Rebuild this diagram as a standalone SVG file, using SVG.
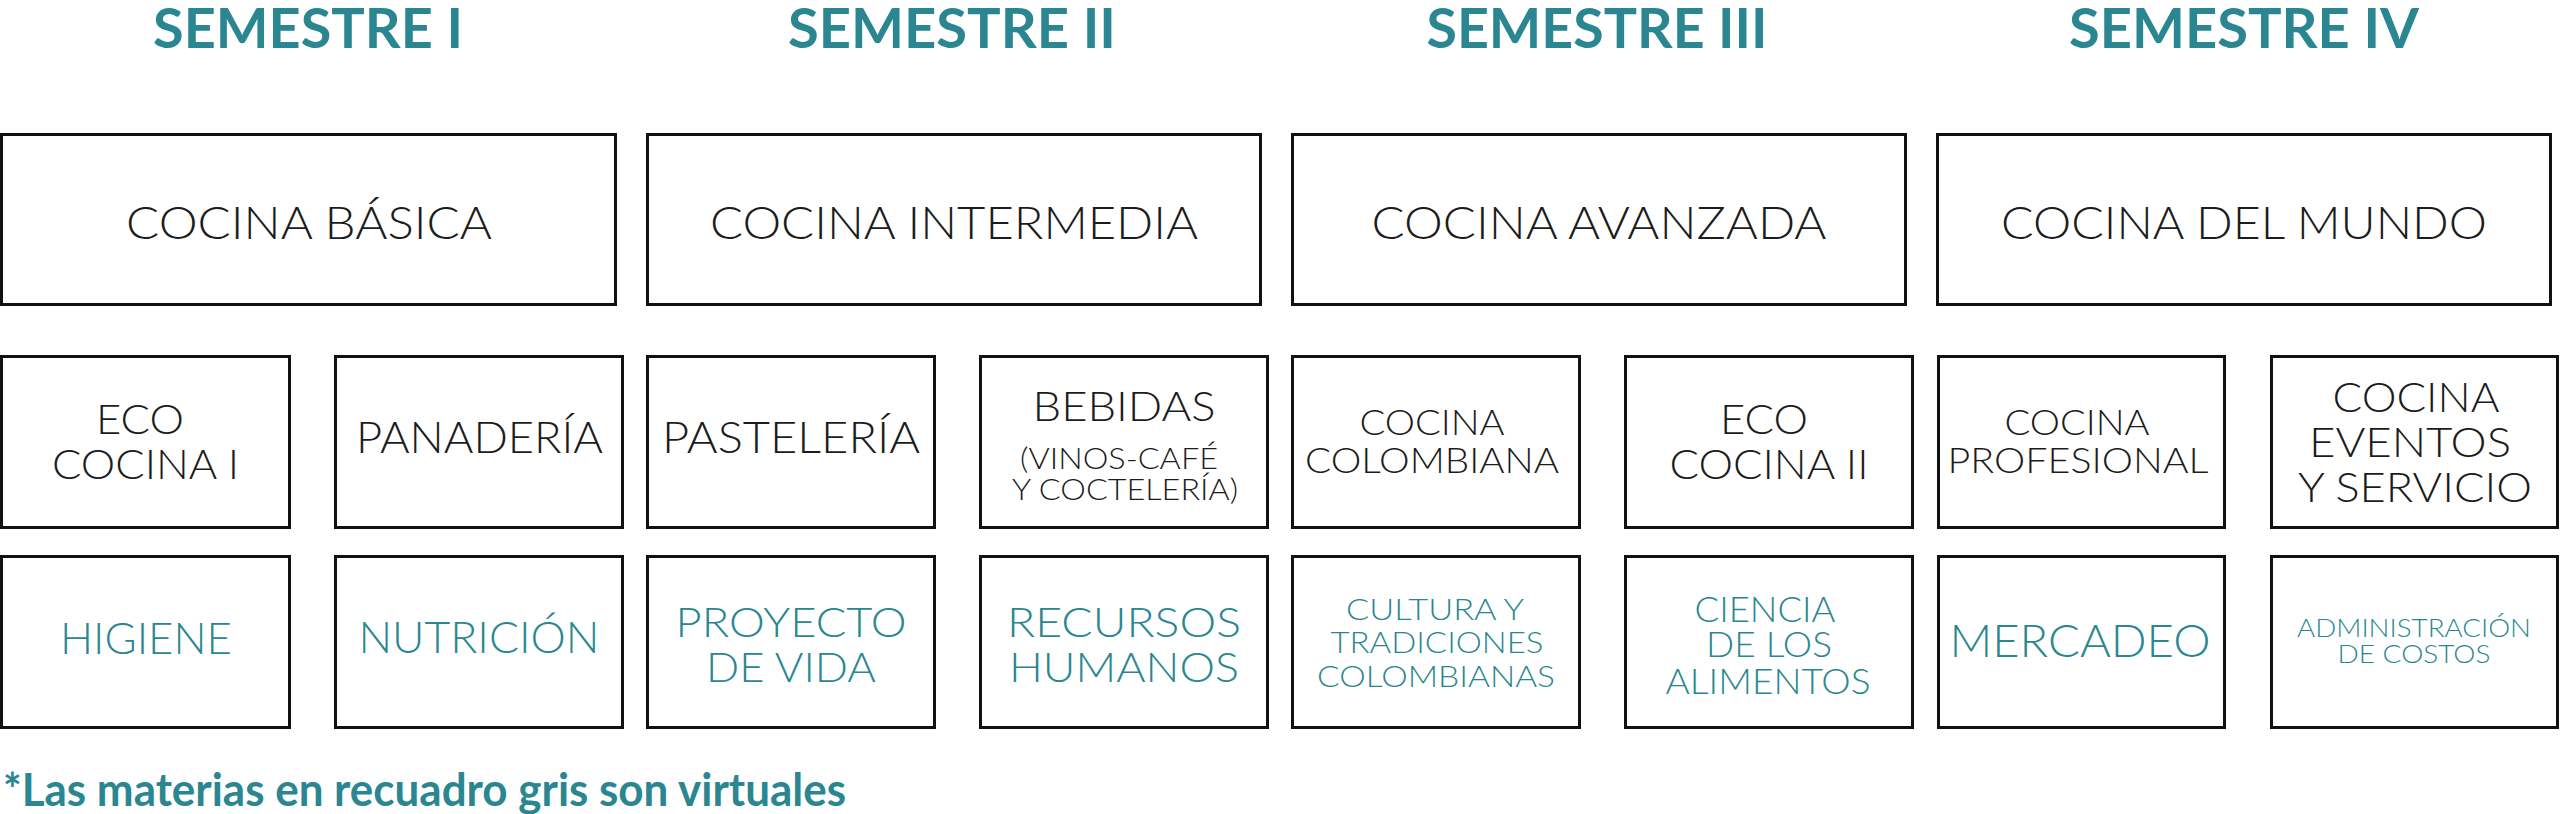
<svg xmlns="http://www.w3.org/2000/svg" width="2560" height="814" viewBox="0 0 2560 814">
<style>
  .box { fill: #ffffff; stroke: #111111; stroke-width: 3; }
  .t { font-family: Lato, "Liberation Sans", sans-serif; font-weight: 300; fill: #1c1c1c; text-anchor: middle; }
  .v { font-family: Lato, "Liberation Sans", sans-serif; font-weight: 300; fill: #2a8791; text-anchor: middle; }
  .h { font-family: Lato, "Liberation Sans", sans-serif; font-weight: 700; fill: #2a8691; text-anchor: middle; font-size: 56px; }
  .note { font-family: Lato, "Liberation Sans", sans-serif; font-weight: 700; fill: #2a8691; font-size: 46px; }
</style>
<rect x="0" y="0" width="2560" height="814" fill="#ffffff"/>

<g id="titles">
  <text class="h" x="308" y="48" textLength="310" lengthAdjust="spacingAndGlyphs">SEMESTRE I</text>
  <text class="h" x="952" y="48" textLength="328" lengthAdjust="spacingAndGlyphs">SEMESTRE II</text>
  <text class="h" x="1597" y="48" textLength="341" lengthAdjust="spacingAndGlyphs">SEMESTRE III</text>
  <text class="h" x="2244" y="48" textLength="350" lengthAdjust="spacingAndGlyphs">SEMESTRE IV</text>
</g>

<g id="connectors"></g>

<!-- Row 1 -->
<g id="cocina-basica">
  <rect class="box" x="1.5" y="134.5" width="614" height="170"/>
  <text class="t" x="309" y="239" font-size="46" textLength="366" lengthAdjust="spacingAndGlyphs">COCINA BÁSICA</text>
</g>
<g id="cocina-intermedia">
  <rect class="box" x="647.5" y="134.5" width="613" height="170"/>
  <text class="t" x="954" y="239" font-size="46" textLength="488" lengthAdjust="spacingAndGlyphs">COCINA INTERMEDIA</text>
</g>
<g id="cocina-avanzada">
  <rect class="box" x="1292.5" y="134.5" width="613" height="170"/>
  <text class="t" x="1599" y="239" font-size="46" textLength="455" lengthAdjust="spacingAndGlyphs">COCINA AVANZADA</text>
</g>
<g id="cocina-del-mundo">
  <rect class="box" x="1937.5" y="134.5" width="613" height="170"/>
  <text class="t" x="2244" y="239" font-size="46" textLength="486" lengthAdjust="spacingAndGlyphs">COCINA DEL MUNDO</text>
</g>

<!-- Row 2 -->
<g id="eco-cocina-1">
  <rect class="box" x="1.5" y="356.5" width="288" height="171"/>
  <text class="t" x="140" y="434" font-size="42" textLength="88" lengthAdjust="spacingAndGlyphs">ECO</text>
  <text class="t" x="145.5" y="479" font-size="42" textLength="187" lengthAdjust="spacingAndGlyphs">COCINA I</text>
</g>
<g id="panaderia">
  <rect class="box" x="335.5" y="356.5" width="287" height="171"/>
  <text class="t" x="479.5" y="453" font-size="43" textLength="247" lengthAdjust="spacingAndGlyphs">PANADERÍA</text>
</g>
<g id="pasteleria">
  <rect class="box" x="647.5" y="356.5" width="287" height="171"/>
  <text class="t" x="791" y="453" font-size="43" textLength="258" lengthAdjust="spacingAndGlyphs">PASTELERÍA</text>
</g>
<g id="bebidas">
  <rect class="box" x="980.5" y="356.5" width="287" height="171"/>
  <text class="t" x="1124" y="421" font-size="41" textLength="183" lengthAdjust="spacingAndGlyphs">BEBIDAS</text>
  <text class="t" x="1119" y="469" font-size="29" textLength="198" lengthAdjust="spacingAndGlyphs">(VINOS-CAFÉ</text>
  <text class="t" x="1125" y="500" font-size="29" textLength="226" lengthAdjust="spacingAndGlyphs">Y COCTELERÍA)</text>
</g>
<g id="cocina-colombiana">
  <rect class="box" x="1292.5" y="356.5" width="287" height="171"/>
  <text class="t" x="1432" y="435" font-size="36" textLength="145" lengthAdjust="spacingAndGlyphs">COCINA</text>
  <text class="t" x="1432" y="473" font-size="36" textLength="254" lengthAdjust="spacingAndGlyphs">COLOMBIANA</text>
</g>
<g id="eco-cocina-2">
  <rect class="box" x="1625.5" y="356.5" width="287" height="171"/>
  <text class="t" x="1764" y="434" font-size="42" textLength="88" lengthAdjust="spacingAndGlyphs">ECO</text>
  <text class="t" x="1769" y="479" font-size="42" textLength="199" lengthAdjust="spacingAndGlyphs">COCINA II</text>
</g>
<g id="cocina-profesional">
  <rect class="box" x="1938.5" y="356.5" width="286" height="171"/>
  <text class="t" x="2077" y="435" font-size="36" textLength="145" lengthAdjust="spacingAndGlyphs">COCINA</text>
  <text class="t" x="2078" y="473" font-size="36" textLength="261" lengthAdjust="spacingAndGlyphs">PROFESIONAL</text>
</g>
<g id="cocina-eventos">
  <rect class="box" x="2271.5" y="356.5" width="286" height="171"/>
  <text class="t" x="2416" y="412" font-size="42" textLength="167" lengthAdjust="spacingAndGlyphs">COCINA</text>
  <text class="t" x="2410" y="457" font-size="42" textLength="202" lengthAdjust="spacingAndGlyphs">EVENTOS</text>
  <text class="t" x="2415" y="502" font-size="42" textLength="234" lengthAdjust="spacingAndGlyphs">Y SERVICIO</text>
</g>

<!-- Row 3 -->
<g id="higiene">
  <rect class="box" x="1.5" y="556.5" width="288" height="171"/>
  <text class="v" x="146" y="654" font-size="43" textLength="172" lengthAdjust="spacingAndGlyphs">HIGIENE</text>
</g>
<g id="nutricion">
  <rect class="box" x="335.5" y="556.5" width="287" height="171"/>
  <text class="v" x="479" y="653" font-size="43" textLength="241" lengthAdjust="spacingAndGlyphs">NUTRICIÓN</text>
</g>
<g id="proyecto-de-vida">
  <rect class="box" x="647.5" y="556.5" width="287" height="171"/>
  <text class="v" x="791" y="637" font-size="42" textLength="231" lengthAdjust="spacingAndGlyphs">PROYECTO</text>
  <text class="v" x="791" y="682" font-size="42" textLength="170" lengthAdjust="spacingAndGlyphs">DE VIDA</text>
</g>
<g id="recursos-humanos">
  <rect class="box" x="980.5" y="556.5" width="287" height="171"/>
  <text class="v" x="1124" y="637" font-size="42" textLength="234" lengthAdjust="spacingAndGlyphs">RECURSOS</text>
  <text class="v" x="1124" y="682" font-size="42" textLength="230" lengthAdjust="spacingAndGlyphs">HUMANOS</text>
</g>
<g id="cultura-tradiciones">
  <rect class="box" x="1292.5" y="556.5" width="287" height="171"/>
  <text class="v" x="1435" y="620" font-size="30" textLength="178" lengthAdjust="spacingAndGlyphs">CULTURA Y</text>
  <text class="v" x="1437" y="653" font-size="30" textLength="213" lengthAdjust="spacingAndGlyphs">TRADICIONES</text>
  <text class="v" x="1436" y="687" font-size="30" textLength="238" lengthAdjust="spacingAndGlyphs">COLOMBIANAS</text>
</g>
<g id="ciencia-alimentos">
  <rect class="box" x="1625.5" y="556.5" width="287" height="171"/>
  <text class="v" x="1765" y="622" font-size="35" textLength="141" lengthAdjust="spacingAndGlyphs">CIENCIA</text>
  <text class="v" x="1769" y="657" font-size="35" textLength="126" lengthAdjust="spacingAndGlyphs">DE LOS</text>
  <text class="v" x="1768" y="694" font-size="35" textLength="205" lengthAdjust="spacingAndGlyphs">ALIMENTOS</text>
</g>
<g id="mercadeo">
  <rect class="box" x="1938.5" y="556.5" width="286" height="171"/>
  <text class="v" x="2080" y="657" font-size="46" textLength="261" lengthAdjust="spacingAndGlyphs">MERCADEO</text>
</g>
<g id="administracion-costos">
  <rect class="box" x="2271.5" y="556.5" width="286" height="171"/>
  <text class="v" x="2414" y="637" font-size="26" textLength="234" lengthAdjust="spacingAndGlyphs">ADMINISTRACIÓN</text>
  <text class="v" x="2414" y="663" font-size="26" textLength="153" lengthAdjust="spacingAndGlyphs">DE COSTOS</text>
</g>

<g id="footnote">
  <text class="note" x="3" y="806" textLength="843" lengthAdjust="spacingAndGlyphs">*Las materias en recuadro gris son virtuales</text>
</g>
</svg>
